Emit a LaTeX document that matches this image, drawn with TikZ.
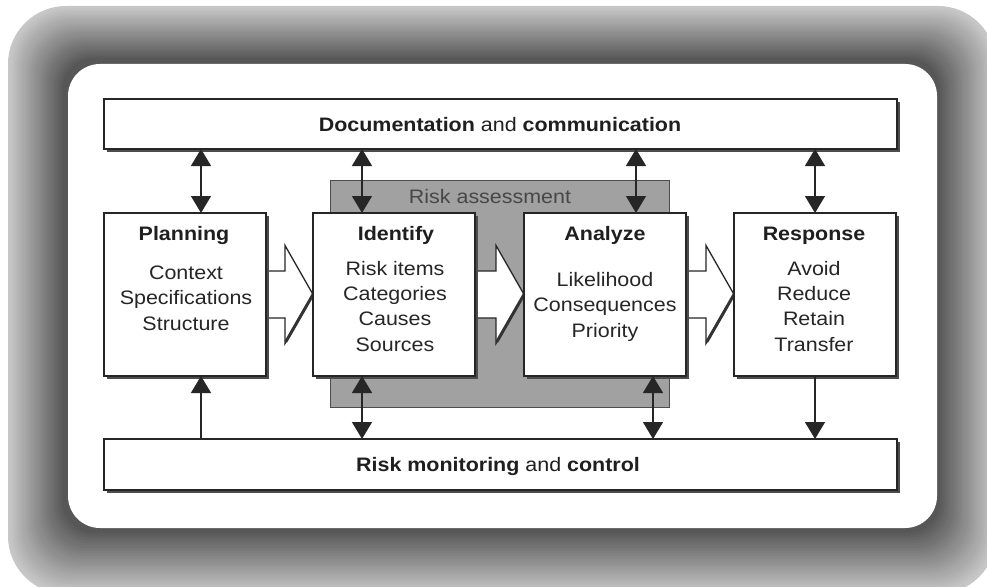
\documentclass[tikz,border=0pt]{standalone}
\usepackage{fontspec}
\setmainfont[FakeStretch=1.1]{Liberation Sans}
\usetikzlibrary{arrows.meta,shadows}
\pgfdeclarelayer{bg}
\pgfdeclarelayer{arr}
\pgfsetlayers{bg,arr,main}
\tikzset{
  fsz/.style={font=\fontsize{19.5}{25.3}\selectfont},
  boxsty/.style={draw=black!85, line width=1.3pt, fill=white, inner sep=0pt, outer sep=0pt,
    drop shadow={shadow xshift=2.5pt, shadow yshift=-2.5pt, opacity=1, fill=black!70}},
  stage/.style={boxsty, minimum width=162pt, minimum height=163pt},
  band/.style={boxsty, minimum width=793pt, minimum height=50pt, fsz, text=black!88},
  ttl/.style={fsz, font=\bfseries\fontsize{19.5}{25.3}\selectfont, text=black!88, inner sep=0pt, anchor=base},
  body/.style={fsz, align=center, text=black!85, inner sep=0pt, anchor=base},
  conn/.style={line width=1.4pt, draw=black!85},
  dbl/.style={conn, {Triangle[width=20pt,length=17pt]}-{Triangle[width=20pt,length=17pt]}},
  sgl/.style={conn, -{Triangle[width=20pt,length=17pt]}},
  harrow/.style={line width=1.3pt, draw=black!85, fill=white, line join=miter}
}
\newcommand\hollowarr[2]{%
  \draw[harrow] ([yshift=23.5pt]#1.east) -- ([xshift=-28pt,yshift=23.5pt]#2.west)
    -- ([xshift=-28pt,yshift=49pt]#2.west) -- (#2.west)
    -- ([xshift=-28pt,yshift=-49pt]#2.west) -- ([xshift=-28pt,yshift=-23.5pt]#2.west)
    -- ([yshift=-23.5pt]#1.east);
  \draw[line width=3pt, black!80, line cap=round] (#2.west) -- ([xshift=-27pt,yshift=-47pt]#2.west);
}
\begin{document}
\begin{tikzpicture}[x=1pt,y=-1pt]
\useasboundingbox (0,0) rectangle (987,586);
\clip (0,0) rectangle (987,586);
\begin{pgfonlayer}{bg}
\fill[white] (0,0) rectangle (987,586);
\foreach \i in {0,...,24}{
  \pgfmathsetmacro\t{\i/24}
  \pgfmathtruncatemacro\c{22+44*\t}
  \pgfmathsetmacro\r{58-26*\t}
  \pgfmathsetmacro\xa{8+54*\t}
  \pgfmathsetmacro\ya{6+52*\t}
  \pgfmathsetmacro\xb{996-56*\t}
  \pgfmathsetmacro\yb{594-61*\t}
  \fill[black!\c, rounded corners=\r pt] (\xa,\ya) rectangle (\xb,\yb);
}
\fill[white, rounded corners=32pt] (68,64) rectangle (937,528);
\node[draw=black!70, line width=1pt, fill=black!37, minimum width=339pt, minimum height=227pt, inner sep=0pt] (ra) at (499.5,293.5) {};
\node[fsz, text=black!72, inner sep=0pt, anchor=base] (ralbl) at (490,203) {Risk assessment};
\end{pgfonlayer}

% bands
\node[band] (doc) at (500.5,124) {};
\node[fsz, text=black!88, inner sep=0pt, anchor=base] (doct) at (500,131) {\textbf{Documentation} and \textbf{communication}};
\node[band, minimum height=51pt] (mon) at (500.5,464.5) {};
\node[fsz, text=black!88, inner sep=0pt, anchor=base] (mont) at (498,471) {\textbf{Risk monitoring} and \textbf{control}};

% stages
\node[stage] (plan) at (185,294.5) {};
\node[stage] (iden) at (394,294.5) {};
\node[stage] (anal) at (605,294.5) {};
\node[stage] (resp) at (815,294.5) {};

\node[ttl] (plant) at (184,240) {Planning};
\node[ttl] (ident) at (396,240) {Identify};
\node[ttl] (analt) at (605,240) {Analyze};
\node[ttl] (respt) at (814,240) {Response};

\node[body] (planb) at (186,330) {Context\\Specifications\\Structure};
\node[body] (idenb) at (395,351) {Risk items\\Categories\\Causes\\Sources};
\node[body] (analb) at (605,337) {Likelihood\\Consequences\\Priority};
\node[body] (respb) at (814,351) {Avoid\\Reduce\\Retain\\Transfer};

% hollow arrows
\begin{pgfonlayer}{arr}
\hollowarr{plan}{iden}
\hollowarr{iden}{anal}
\hollowarr{anal}{resp}
\end{pgfonlayer}

% vertical connectors
\coordinate (x1) at (201,0);
\coordinate (x2) at (362,0);
\coordinate (x3) at (636,0);
\coordinate (x4) at (653,0);
\coordinate (x5) at (815,0);
\draw[dbl] (doc.south -| x1) -- (plan.north -| x1);
\draw[dbl] (doc.south -| x2) -- (iden.north -| x2);
\draw[dbl] (doc.south -| x3) -- (anal.north -| x3);
\draw[dbl] (doc.south -| x5) -- (resp.north -| x5);
\draw[sgl] (mon.north -| x1) -- (plan.south -| x1);
\draw[dbl] (iden.south -| x2) -- (mon.north -| x2);
\draw[dbl] (anal.south -| x4) -- (mon.north -| x4);
\draw[sgl] (resp.south -| x5) -- (mon.north -| x5);
\end{tikzpicture}
\end{document}
